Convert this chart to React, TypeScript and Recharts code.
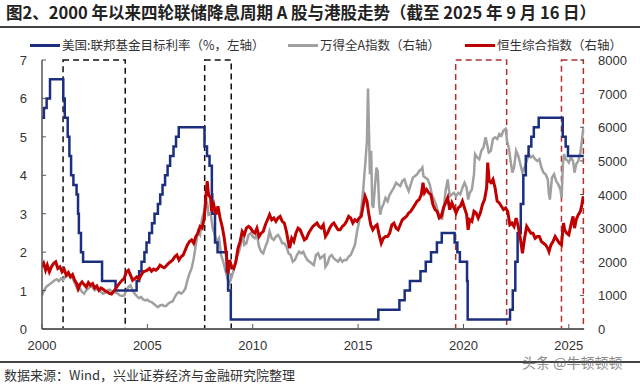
import React from 'react';
import { LineChart, Line, XAxis, YAxis, ReferenceArea } from 'recharts';

// US fed funds target (upper bound), change dates as decimal years
const fedRate: [number, number][] = [
  [2000.0, 5.5], [2000.09, 5.75], [2000.22, 6.0], [2000.38, 6.5],
  [2001.01, 6.0], [2001.08, 5.5], [2001.22, 5.0], [2001.3, 4.5], [2001.38, 4.0], [2001.49, 3.75],
  [2001.64, 3.5], [2001.71, 3.0], [2001.75, 2.5], [2001.85, 2.0], [2001.95, 1.75],
  [2002.85, 1.25], [2003.49, 1.0],
  [2004.49, 1.25], [2004.61, 1.5], [2004.72, 1.75], [2004.86, 2.0], [2004.96, 2.25],
  [2005.09, 2.5], [2005.22, 2.75], [2005.34, 3.0], [2005.5, 3.25], [2005.61, 3.5], [2005.72, 3.75],
  [2005.84, 4.0], [2005.96, 4.25], [2006.08, 4.5], [2006.24, 4.75], [2006.36, 5.0], [2006.49, 5.25],
  [2007.71, 4.75], [2007.83, 4.5], [2007.95, 4.25], [2008.06, 3.5], [2008.08, 3.0], [2008.21, 2.25],
  [2008.33, 2.0], [2008.77, 1.5], [2008.83, 1.0], [2008.96, 0.25],
  [2015.96, 0.5], [2016.96, 0.75], [2017.21, 1.0], [2017.46, 1.25], [2017.96, 1.5],
  [2018.21, 1.75], [2018.46, 2.0], [2018.74, 2.25], [2018.97, 2.5],
  [2019.58, 2.25], [2019.71, 2.0], [2019.83, 1.75], [2020.17, 1.25], [2020.2, 0.25],
  [2022.21, 0.5], [2022.34, 1.0], [2022.46, 1.75], [2022.57, 2.5], [2022.72, 3.25], [2022.84, 4.0],
  [2022.96, 4.5], [2023.09, 4.75], [2023.22, 5.0], [2023.34, 5.25], [2023.57, 5.5],
  [2024.71, 5.0], [2024.85, 4.75], [2024.96, 4.5], [2025.71, 4.5],
];

// Wind All A index
const windA: [number, number][] = [
  [2000.0, 1000], [2000.1, 1150], [2000.2, 1250], [2000.3, 1300], [2000.4, 1350], [2000.5, 1400],
  [2000.6, 1450], [2000.7, 1480], [2000.8, 1420], [2000.9, 1500], [2001.0, 1450], [2001.1, 1550],
  [2001.2, 1580], [2001.3, 1620], [2001.4, 1580], [2001.5, 1450], [2001.6, 1300], [2001.7, 1150],
  [2001.8, 1200], [2001.9, 1100], [2002.0, 1050], [2002.1, 1150], [2002.2, 1200], [2002.3, 1280],
  [2002.4, 1230], [2002.5, 1150], [2002.6, 1200], [2002.7, 1150], [2002.8, 1100], [2002.9, 1050],
  [2003.0, 1080], [2003.1, 1150], [2003.2, 1170], [2003.3, 1130], [2003.4, 1100], [2003.5, 1080],
  [2003.6, 1050], [2003.7, 1000], [2003.8, 980], [2003.9, 1000], [2004.0, 1150], [2004.1, 1250],
  [2004.2, 1300], [2004.3, 1150], [2004.4, 1050], [2004.5, 980], [2004.6, 920], [2004.7, 950],
  [2004.8, 880], [2004.9, 850], [2005.0, 870], [2005.1, 820], [2005.2, 800], [2005.3, 750],
  [2005.4, 700], [2005.5, 650], [2005.6, 700], [2005.7, 720], [2005.8, 680], [2005.9, 690],
  [2006.0, 760], [2006.1, 800], [2006.2, 820], [2006.3, 950], [2006.4, 1050], [2006.5, 1100],
  [2006.6, 1050], [2006.7, 1100], [2006.8, 1200], [2006.9, 1450], [2007.0, 1650], [2007.1, 1800],
  [2007.2, 2100], [2007.3, 2500], [2007.4, 2900], [2007.5, 2800], [2007.6, 3300], [2007.7, 3500],
  [2007.8, 3800], [2007.85, 3700], [2007.9, 3400], [2008.0, 3450], [2008.1, 3000], [2008.2, 2800],
  [2008.3, 2600], [2008.4, 2700], [2008.5, 2200], [2008.6, 2000], [2008.7, 1750], [2008.8, 1500],
  [2008.87, 1350], [2008.95, 1450], [2009.05, 1650], [2009.15, 1900], [2009.25, 2150], [2009.35, 2300],
  [2009.45, 2550], [2009.55, 2800], [2009.6, 2500], [2009.7, 2550], [2009.8, 2800], [2009.9, 2850],
  [2010.0, 2750], [2010.1, 2700], [2010.2, 2800], [2010.3, 2450], [2010.4, 2300], [2010.5, 2250],
  [2010.6, 2450], [2010.7, 2600], [2010.8, 2900], [2010.9, 2700], [2011.0, 2650], [2011.1, 2750],
  [2011.2, 2800], [2011.3, 2700], [2011.4, 2550], [2011.5, 2550], [2011.6, 2450], [2011.7, 2250],
  [2011.8, 2200], [2011.9, 2000], [2012.0, 2050], [2012.1, 2200], [2012.2, 2300], [2012.3, 2250],
  [2012.4, 2300], [2012.5, 2150], [2012.6, 2050], [2012.7, 2000], [2012.8, 1950], [2012.9, 1900],
  [2013.0, 2200], [2013.1, 2250], [2013.2, 2100], [2013.3, 2150], [2013.4, 2200], [2013.45, 1850],
  [2013.55, 1950], [2013.65, 2150], [2013.75, 2200], [2013.85, 2100], [2013.95, 2050], [2014.05, 2000],
  [2014.15, 2100], [2014.25, 2000], [2014.35, 2050], [2014.45, 2050], [2014.55, 2150], [2014.65, 2200],
  [2014.75, 2350], [2014.85, 2500], [2014.95, 2900], [2015.05, 3200], [2015.15, 3550], [2015.25, 4200],
  [2015.35, 5000], [2015.42, 5600], [2015.47, 7150], [2015.52, 5800], [2015.56, 4600], [2015.62, 5300],
  [2015.67, 3700], [2015.72, 3600], [2015.8, 4250], [2015.87, 4800], [2015.93, 4700], [2016.0, 3700],
  [2016.05, 3400], [2016.12, 3600], [2016.2, 3700], [2016.3, 3900], [2016.4, 3800], [2016.5, 4000],
  [2016.6, 4100], [2016.7, 4200], [2016.8, 4350], [2016.9, 4300], [2017.0, 4250], [2017.1, 4400],
  [2017.2, 4450], [2017.3, 4250], [2017.4, 4100], [2017.5, 4300], [2017.6, 4500], [2017.7, 4550],
  [2017.8, 4600], [2017.9, 4700], [2018.0, 4750], [2018.05, 4800], [2018.1, 4550], [2018.2, 4500],
  [2018.3, 4450], [2018.4, 4300], [2018.5, 4000], [2018.6, 3850], [2018.7, 3700], [2018.8, 3450],
  [2018.9, 3400], [2018.98, 3250], [2019.05, 3500], [2019.15, 4100], [2019.25, 4450], [2019.35, 3950],
  [2019.45, 4000], [2019.55, 4050], [2019.65, 3950], [2019.75, 4050], [2019.85, 4000], [2019.95, 4200],
  [2020.05, 4350], [2020.15, 4200], [2020.22, 3850], [2020.3, 4050], [2020.4, 4150], [2020.5, 4600],
  [2020.55, 5200], [2020.65, 5100], [2020.75, 5050], [2020.85, 5300], [2020.95, 5400], [2021.05, 5700],
  [2021.12, 5500], [2021.2, 5250], [2021.3, 5300], [2021.4, 5650], [2021.5, 5700], [2021.6, 5650],
  [2021.7, 5800], [2021.8, 5750], [2021.9, 5900], [2022.0, 5950], [2022.08, 5550], [2022.15, 5400],
  [2022.25, 4950], [2022.32, 4650], [2022.4, 4800], [2022.5, 5300], [2022.6, 5150], [2022.7, 4900],
  [2022.8, 4650], [2022.9, 4800], [2023.0, 5000], [2023.1, 5200], [2023.2, 5100], [2023.3, 5150],
  [2023.4, 5050], [2023.5, 5000], [2023.6, 5050], [2023.7, 4800], [2023.8, 4650], [2023.9, 4600],
  [2024.0, 4450], [2024.05, 4050], [2024.1, 3850], [2024.2, 4500], [2024.3, 4600], [2024.4, 4400],
  [2024.5, 4300], [2024.6, 4150], [2024.66, 3900], [2024.72, 4900], [2024.77, 5200], [2024.85, 5050],
  [2024.95, 5000], [2025.0, 4950], [2025.1, 5100], [2025.2, 5000], [2025.27, 4650], [2025.35, 4900],
  [2025.45, 5000], [2025.55, 5250], [2025.62, 5600], [2025.69, 6000],
];

// Hang Seng Composite index
const hsci: [number, number][] = [
  [2000.0, 1850], [2000.08, 1950], [2000.17, 1750], [2000.25, 1900], [2000.35, 1700], [2000.45, 1850],
  [2000.55, 1950], [2000.65, 2000], [2000.75, 1800], [2000.85, 1850], [2000.95, 1700], [2001.05, 1780],
  [2001.15, 1600], [2001.25, 1680], [2001.35, 1550], [2001.45, 1620], [2001.55, 1450], [2001.65, 1350],
  [2001.72, 1200], [2001.8, 1320], [2001.9, 1400], [2002.0, 1320], [2002.1, 1250], [2002.2, 1380],
  [2002.3, 1300], [2002.4, 1350], [2002.5, 1220], [2002.6, 1280], [2002.7, 1150], [2002.8, 1220],
  [2002.9, 1180], [2003.0, 1130], [2003.1, 1100], [2003.2, 1060], [2003.3, 1040], [2003.4, 1120],
  [2003.5, 1200], [2003.6, 1300], [2003.7, 1380], [2003.8, 1450], [2003.9, 1500], [2004.0, 1700],
  [2004.1, 1750], [2004.2, 1600], [2004.3, 1450], [2004.4, 1500], [2004.5, 1550], [2004.6, 1480],
  [2004.7, 1600], [2004.8, 1700], [2004.9, 1720], [2005.0, 1750], [2005.1, 1800], [2005.2, 1720],
  [2005.3, 1780], [2005.4, 1750], [2005.5, 1800], [2005.6, 1900], [2005.7, 1850], [2005.8, 1820],
  [2005.9, 1880], [2006.0, 1950], [2006.1, 2000], [2006.2, 2050], [2006.3, 2150], [2006.4, 2200],
  [2006.5, 2050], [2006.6, 2150], [2006.7, 2200], [2006.8, 2350], [2006.9, 2500], [2007.0, 2600],
  [2007.1, 2650], [2007.2, 2550], [2007.3, 2750], [2007.4, 2850], [2007.5, 3050], [2007.6, 3000],
  [2007.7, 3300], [2007.8, 4100], [2007.84, 4400], [2007.9, 4000], [2008.0, 3900], [2008.05, 3500],
  [2008.15, 3700], [2008.25, 3400], [2008.35, 3650], [2008.45, 3300], [2008.55, 3050], [2008.65, 2700],
  [2008.75, 2200], [2008.83, 1650], [2008.9, 2050], [2009.0, 1850], [2009.1, 1800], [2009.2, 2000],
  [2009.3, 2400], [2009.4, 2600], [2009.5, 2900], [2009.6, 2800], [2009.7, 3000], [2009.8, 3050],
  [2009.9, 3000], [2010.0, 2900], [2010.1, 2850], [2010.2, 3000], [2010.3, 2750], [2010.4, 2850],
  [2010.5, 2900], [2010.6, 3100], [2010.7, 3250], [2010.8, 3400], [2010.9, 3250], [2011.0, 3300],
  [2011.1, 3200], [2011.2, 3300], [2011.3, 3350], [2011.4, 3200], [2011.5, 3150], [2011.6, 2900],
  [2011.7, 2550], [2011.75, 2400], [2011.85, 2700], [2011.95, 2600], [2012.05, 2850], [2012.15, 3000],
  [2012.25, 2950], [2012.35, 2800], [2012.45, 2650], [2012.55, 2700], [2012.65, 2850], [2012.75, 2950],
  [2012.85, 3050], [2012.95, 3100], [2013.05, 3150], [2013.15, 3050], [2013.25, 3000], [2013.35, 3100],
  [2013.45, 2750], [2013.55, 2850], [2013.65, 3000], [2013.75, 3100], [2013.85, 3150], [2013.95, 3050],
  [2014.05, 2950], [2014.15, 2950], [2014.25, 3050], [2014.35, 3100], [2014.45, 3200], [2014.55, 3350],
  [2014.65, 3300], [2014.75, 3150], [2014.85, 3250], [2014.95, 3200], [2015.05, 3300], [2015.15, 3350],
  [2015.25, 3700], [2015.33, 3950], [2015.42, 3800], [2015.5, 3450], [2015.6, 3100], [2015.7, 2950],
  [2015.8, 3050], [2015.9, 3100], [2016.0, 2800], [2016.1, 2550], [2016.2, 2700], [2016.3, 2750],
  [2016.4, 2750], [2016.5, 2850], [2016.6, 3100], [2016.7, 3150], [2016.8, 3000], [2016.9, 2950],
  [2017.0, 3100], [2017.1, 3250], [2017.2, 3300], [2017.3, 3350], [2017.4, 3450], [2017.5, 3500],
  [2017.6, 3600], [2017.7, 3700], [2017.8, 3800], [2017.9, 3850], [2018.0, 4000], [2018.08, 4350],
  [2018.15, 4050], [2018.25, 4150], [2018.35, 4050], [2018.45, 4000], [2018.55, 3700], [2018.65, 3550],
  [2018.75, 3500], [2018.85, 3300], [2018.95, 3350], [2019.05, 3600], [2019.15, 3750], [2019.25, 3900],
  [2019.35, 3550], [2019.45, 3750], [2019.55, 3600], [2019.65, 3450], [2019.75, 3600], [2019.85, 3650],
  [2019.95, 3800], [2020.05, 3600], [2020.15, 3400], [2020.22, 2950], [2020.3, 3250], [2020.4, 3200],
  [2020.5, 3500], [2020.6, 3450], [2020.7, 3300], [2020.8, 3450], [2020.9, 3700], [2021.0, 3850],
  [2021.1, 4200], [2021.15, 4950], [2021.22, 4400], [2021.3, 4350], [2021.4, 4450], [2021.5, 4200],
  [2021.6, 3800], [2021.7, 3750], [2021.8, 3650], [2021.9, 3550], [2022.0, 3600], [2022.1, 3500],
  [2022.2, 3100], [2022.3, 3150], [2022.4, 3050], [2022.5, 3300], [2022.6, 3050], [2022.7, 2700],
  [2022.8, 2250], [2022.9, 2700], [2023.0, 3050], [2023.1, 2950], [2023.2, 2850], [2023.3, 2850],
  [2023.4, 2700], [2023.5, 2750], [2023.6, 2750], [2023.7, 2600], [2023.8, 2550], [2023.9, 2500],
  [2024.0, 2400], [2024.06, 2300], [2024.15, 2500], [2024.25, 2600], [2024.35, 2750], [2024.45, 2650],
  [2024.55, 2550], [2024.65, 2500], [2024.75, 3150], [2024.8, 2950], [2024.9, 2850], [2025.0, 2800],
  [2025.1, 3100], [2025.2, 3350], [2025.27, 3000], [2025.35, 3250], [2025.45, 3400], [2025.55, 3500],
  [2025.62, 3700], [2025.69, 3950],
];

const yearTicks = [2000, 2005, 2010, 2015, 2020, 2025];
const leftTicks = [0, 1, 2, 3, 4, 5, 6, 7];
const rightTicks = [0, 1000, 2000, 3000, 4000, 5000, 6000, 7000, 8000];

// easing cycles: [start, end, colour]
const cutCycles: [number, number, string][] = [
  [2001.0, 2003.95, '#111111'],
  [2007.72, 2008.98, '#111111'],
  [2019.63, 2022.05, '#b03030'],
  [2024.65, 2025.69, '#b03030'],
];

const toRows = (arr: [number, number][]) => arr.map(([x, v]) => ({ x, v }));

const tickFont = { fontSize: 13, fill: '#333', fontFamily: '"Liberation Sans", Arial, sans-serif' };
const cjk = '"Noto Sans CJK SC", "Noto Sans", sans-serif';

const BottomTick = (props: any) => {
  const { x, y, payload } = props;
  return (
    <g>
      <line x1={x} x2={x} y1={y} y2={y - 5} stroke="#555" />
      <text x={x} y={y + 21} textAnchor="middle" {...tickFont}>{payload.value}</text>
    </g>
  );
};

const LeftTick = (props: any) => {
  const { x, y, payload } = props;
  return (
    <g>
      <line x1={x} x2={x + 4} y1={y} y2={y} stroke="#555" />
      <text x={x - 15} y={y + 5} textAnchor="end" {...tickFont}>{payload.value}</text>
    </g>
  );
};

const RightTick = (props: any) => {
  const { x, y, payload } = props;
  return (
    <g>
      <line x1={x - 4} x2={x} y1={y} y2={y} stroke="#555" />
      <text x={x + 14} y={y + 5} textAnchor="start" {...tickFont}>{payload.value}</text>
    </g>
  );
};

const legendItems = [
  { label: '美国:联邦基金目标利率（%，左轴）', color: '#1b2f7e', left: 30 },
  { label: '万得全A指数（右轴）', color: '#a0a0a0', left: 288 },
  { label: '恒生综合指数（右轴）', color: '#c00000', left: 465 },
];

export default function App() {
  return (
    <div style={{ position: 'absolute', left: 0, top: 0, width: 640, height: 385, background: '#fff', overflow: 'hidden' }}>
      <div style={{ position: 'absolute', left: 6, top: 1, fontFamily: cjk, fontWeight: 700, fontSize: 16.5, color: '#222', whiteSpace: 'nowrap', lineHeight: '22px' }}>
        图2、2000 年以来四轮联储降息周期 A 股与港股走势（截至 2025 年 9 月 16 日）
      </div>
      <div style={{ position: 'absolute', left: 0, top: 26, width: 640, height: 1.5, background: '#444' }} />

      {legendItems.map((it) => (
        <div key={it.label} style={{ position: 'absolute', left: it.left, top: 36, display: 'flex', alignItems: 'center', whiteSpace: 'nowrap' }}>
          <div style={{ width: 30, height: 3, background: it.color, marginRight: 2 }} />
          <span style={{ fontFamily: cjk, fontSize: 12.5, color: '#333', lineHeight: '18px' }}>{it.label}</span>
        </div>
      ))}

      <LineChart
        width={640}
        height={385}
        margin={{ top: 60, right: 0, bottom: 0, left: 0 }}
        style={{ position: 'absolute', left: 0, top: 0 }}
      >
        <XAxis
          dataKey="x"
          type="number"
          domain={[2000, 2025.72]}
          ticks={yearTicks}
          height={56}
          tickSize={0}
          tickMargin={0}
          tickLine={false}
          axisLine={{ stroke: '#666', strokeWidth: 2 }}
          tick={<BottomTick />}
          allowDataOverflow
        />
        <YAxis
          yAxisId="left"
          orientation="left"
          width={42}
          domain={[0, 7]}
          ticks={leftTicks}
          tickSize={0}
          tickMargin={0}
          tickLine={false}
          axisLine={{ stroke: '#555', strokeWidth: 1.5 }}
          tick={<LeftTick />}
        />
        <YAxis
          yAxisId="right"
          orientation="right"
          width={56}
          domain={[0, 8000]}
          ticks={rightTicks}
          tickSize={0}
          tickMargin={0}
          tickLine={false}
          axisLine={false}
          tick={<RightTick />}
        />
        {cutCycles.map(([a, b, c]) => (
          <ReferenceArea
            key={a}
            yAxisId="left"
            x1={a}
            x2={b}
            y1={0}
            y2={7}
            fill="none"
            fillOpacity={0}
            stroke={c}
            strokeWidth={1.5}
            strokeDasharray="6 4"
          />
        ))}
        <Line
          yAxisId="right"
          data={toRows(windA)}
          dataKey="v"
          type="linear"
          stroke="#a0a0a0"
          strokeWidth={2.5}
          dot={false}
          isAnimationActive={false}
        />
        <Line
          yAxisId="left"
          data={toRows(fedRate)}
          dataKey="v"
          type="stepAfter"
          stroke="#1b2f7e"
          strokeWidth={2.5}
          dot={false}
          isAnimationActive={false}
        />
        <Line
          yAxisId="right"
          data={toRows(hsci)}
          dataKey="v"
          type="linear"
          stroke="#c00000"
          strokeWidth={3}
          dot={false}
          isAnimationActive={false}
        />
      </LineChart>

      <div style={{ position: 'absolute', left: 0, top: 361, width: 640, height: 1.5, background: '#444' }} />
      <div style={{ position: 'absolute', left: 4, top: 366, fontFamily: cjk, fontSize: 13, color: '#333', whiteSpace: 'nowrap', lineHeight: '18px' }}>
        数据来源：Wind，兴业证券经济与金融研究院整理
      </div>
      <div style={{ position: 'absolute', left: 522, top: 353, fontFamily: cjk, fontSize: 14, color: '#666', opacity: 0.75, whiteSpace: 'nowrap', lineHeight: '18px' }}>
        头条 @牛顿顿顿
      </div>
    </div>
  );
}
